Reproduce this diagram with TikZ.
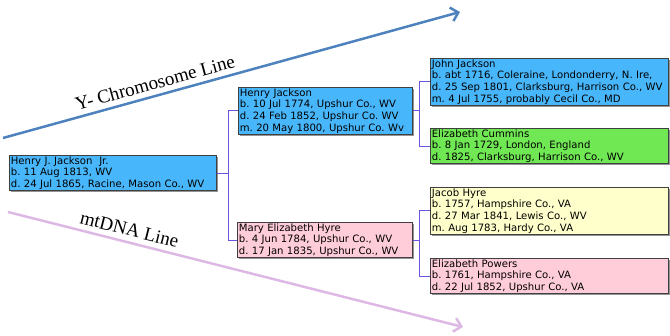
\documentclass[tikz,border=0pt]{standalone}
\usepackage{fontspec}
\setmainfont{DejaVu Sans}
\newfontfamily\linefont{Liberation Serif}
\usetikzlibrary{arrows.meta,shadows}
\frenchspacing

\definecolor{boxblue}{RGB}{72,182,250}
\definecolor{boxgreen}{RGB}{112,232,84}
\definecolor{boxyellow}{RGB}{255,255,204}
\definecolor{boxpink}{RGB}{255,204,218}
\definecolor{linkblue}{RGB}{104,84,222}
\definecolor{ylinecol}{RGB}{78,130,190}
\definecolor{mtlinecol}{RGB}{222,184,228}

\tikzset{
  person/.style={draw=black!75, line width=0.7pt, rectangle, anchor=north west,
    align=left, inner xsep=1.5pt, inner ysep=1.2pt,
    font=\fontsize{10.1}{11.6}\selectfont,
    drop shadow={shadow xshift=1.5pt, shadow yshift=-1.5pt, fill=black!60, opacity=.7}},
  link/.style={draw=linkblue, line width=0.9pt},
  lineage/.style={line width=2.5pt, -{Straight Barb[length=7pt,width=14pt]}},
  linelabel/.style={font=\linefont\fontsize{19}{22}\selectfont, sloped, above=4pt, inner sep=1pt},
}

\begin{document}
\begin{tikzpicture}[x=1pt,y=1pt]
    \useasboundingbox (0,0) rectangle (670,336);

    % nodes (people)
    \node[person, fill=boxblue, text width=204pt] (hjj) at (9,181) {Henry J. Jackson\ \ Jr.\\b. 11 Aug 1813, WV\\d. 24 Jul 1865, Racine, Mason Co., WV};
    \node[person, fill=boxblue, text width=171pt] (hj) at (238,249) {Henry Jackson\\b. 10 Jul 1774, Upshur Co., WV\\d. 24 Feb 1852, Upshur Co. WV\\m. 20 May 1800, Upshur Co. Wv};
    \node[person, fill=boxpink, text width=172pt] (meh) at (237,114) {Mary Elizabeth Hyre\\b. 4 Jun 1784, Upshur Co., WV\\d. 17 Jan 1835, Upshur Co., WV};
    \node[person, fill=boxblue, text width=235pt] (jj) at (430,278) {John Jackson\\b. abt 1716, Coleraine, Londonderry, N. Ire,\\d. 25 Sep 1801, Clarksburg, Harrison Co., WV\\m. 4 Jul 1755, probably Cecil Co., MD};
    \node[person, fill=boxgreen, text width=235pt] (ec) at (430,208) {Elizabeth Cummins\\b. 8 Jan 1729, London, England\\d. 1825, Clarksburg, Harrison Co., WV};
    \node[person, fill=boxyellow, text width=235pt] (jh) at (430,149) {Jacob Hyre\\b. 1757, Hampshire Co., VA\\d. 27 Mar 1841, Lewis Co., WV\\m. Aug 1783, Hardy Co., VA};
    \node[person, fill=boxpink, text width=235pt] (ep) at (430,78) {Elizabeth Powers\\b. 1761, Hampshire Co., VA\\d. 22 Jul 1852, Upshur Co., VA};

    % ends of the lineage arrows
    \coordinate (ystart) at (3,198);
    \coordinate (yend) at (460,324);
    \coordinate (mtstart) at (8,124);
    \coordinate (mtend) at (463,9);

    % edges
    \draw[link] (hjj.east) -- ++(12,0) |- (hj.west); % Henry J. Jr -> Henry
    \draw[link] (hjj.east) -- ++(12,0) |- (meh.west); % Henry J. Jr -> Mary
    \draw[link] (hj.east) -- ++(7,0) |- (jj.west); % Henry -> John
    \draw[link] (hj.east) -- ++(7,0) |- (ec.west); % Henry -> Elizabeth C.
    \draw[link] (meh.east) -- ++(7,0) |- (jh.west); % Mary -> Jacob
    \draw[link] (meh.east) -- ++(7,0) |- (ep.west); % Mary -> Elizabeth P.

    % lineage arrows
    \draw[lineage, ylinecol] (ystart) -- node[linelabel, pos=0.34, text=black] (ylabel) {Y- Chromosome Line} (yend);
    \draw[lineage, mtlinecol] (mtstart) -- node[linelabel, pos=0.26, text=black] (mtlabel) {mtDNA Line} (mtend);

\end{tikzpicture}
\end{document}
